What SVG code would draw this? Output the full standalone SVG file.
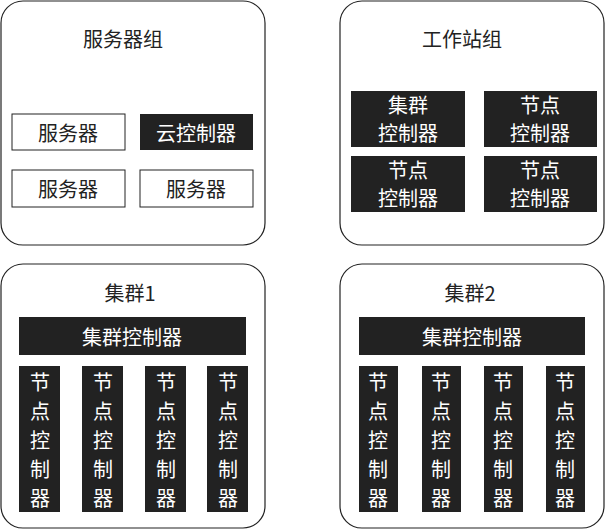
<svg xmlns="http://www.w3.org/2000/svg" width="605" height="529" viewBox="0 0 605 529">
<style>
.g{fill:#fff;stroke:#222;stroke-width:1.2}
.d{fill:#222}
.w{fill:#fff;stroke:#222;stroke-width:1}
text{font-family:"Noto Sans CJK SC","Liberation Serif",serif;font-size:20px;text-anchor:middle;dominant-baseline:central}
.t{fill:#222}
.l{fill:#fff}
</style>
<rect width="605" height="529" fill="#fff"/>
<g id="servers">
<rect class="g" x="1" y="1" width="264" height="244" rx="22"/>
<text class="t" x="123" y="38">服务器组</text>
<rect class="w" x="12" y="114" width="113" height="36"/><text class="t" x="68" y="132">服务器</text>
<rect class="d" x="140" y="114" width="113" height="36"/><text class="l" x="196" y="132">云控制器</text>
<rect class="w" x="12" y="170" width="113" height="37"/><text class="t" x="68" y="188">服务器</text>
<rect class="w" x="140" y="170" width="113" height="37"/><text class="t" x="196" y="188">服务器</text>
</g>
<g id="workstations">
<rect class="g" x="340" y="1" width="264" height="244" rx="22"/>
<text class="t" x="462" y="38">工作站组</text>
<rect class="d" x="351" y="91" width="114" height="56"/><text class="l" x="408" y="104">集群</text><text class="l" x="408" y="132">控制器</text>
<rect class="d" x="484" y="91" width="113" height="56"/><text class="l" x="540" y="104">节点</text><text class="l" x="540" y="132">控制器</text>
<rect class="d" x="351" y="156" width="114" height="56"/><text class="l" x="408" y="169">节点</text><text class="l" x="408" y="197">控制器</text>
<rect class="d" x="484" y="156" width="113" height="56"/><text class="l" x="540" y="169">节点</text><text class="l" x="540" y="197">控制器</text>
</g>
<g id="cluster1">
<rect class="g" x="1" y="264" width="264" height="264" rx="22"/>
<text class="t" x="130" y="292">集群1</text>
<rect class="d" x="19" y="317" width="227" height="38"/><text class="l" x="132" y="336">集群控制器</text>
<g class="l">
<rect class="d" x="19" y="366" width="41" height="146"/>
<rect class="d" x="82" y="366" width="41" height="146"/>
<rect class="d" x="145" y="366" width="41" height="146"/>
<rect class="d" x="207" y="366" width="41" height="146"/>
</g>
<g class="l">
<text x="40" y="381">节</text><text x="40" y="410">点</text><text x="40" y="439">控</text><text x="40" y="468">制</text><text x="40" y="497">器</text>
<text x="103" y="381">节</text><text x="103" y="410">点</text><text x="103" y="439">控</text><text x="103" y="468">制</text><text x="103" y="497">器</text>
<text x="166" y="381">节</text><text x="166" y="410">点</text><text x="166" y="439">控</text><text x="166" y="468">制</text><text x="166" y="497">器</text>
<text x="228" y="381">节</text><text x="228" y="410">点</text><text x="228" y="439">控</text><text x="228" y="468">制</text><text x="228" y="497">器</text>
</g>
</g>
<g id="cluster2">
<rect class="g" x="340" y="264" width="264" height="264" rx="22"/>
<text class="t" x="470" y="292">集群2</text>
<rect class="d" x="359" y="317" width="226" height="38"/><text class="l" x="472" y="336">集群控制器</text>
<rect class="d" x="359" y="366" width="39" height="146"/>
<rect class="d" x="422" y="366" width="39" height="146"/>
<rect class="d" x="484" y="366" width="39" height="146"/>
<rect class="d" x="546" y="366" width="39" height="146"/>
<g class="l">
<text x="378" y="381">节</text><text x="378" y="410">点</text><text x="378" y="439">控</text><text x="378" y="468">制</text><text x="378" y="497">器</text>
<text x="441" y="381">节</text><text x="441" y="410">点</text><text x="441" y="439">控</text><text x="441" y="468">制</text><text x="441" y="497">器</text>
<text x="503" y="381">节</text><text x="503" y="410">点</text><text x="503" y="439">控</text><text x="503" y="468">制</text><text x="503" y="497">器</text>
<text x="565" y="381">节</text><text x="565" y="410">点</text><text x="565" y="439">控</text><text x="565" y="468">制</text><text x="565" y="497">器</text>
</g>
</g>
<g id="connectors"/>
</svg>
